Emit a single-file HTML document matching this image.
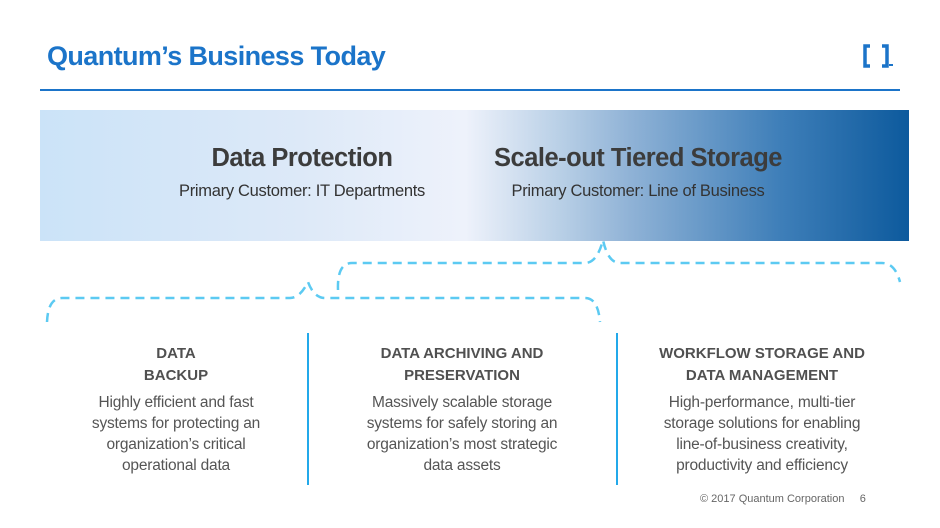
<!DOCTYPE html>
<html><head><meta charset="utf-8"><style>
body{margin:0;width:940px;height:528px;background:#fff;position:relative;overflow:hidden;font-family:"Liberation Sans",sans-serif}
.a{position:absolute}
.t{font-weight:bold;color:#1b74c9;font-size:27px;left:47px;top:41px;letter-spacing:-0.6px}
.band{left:40px;top:110px;width:869px;height:131px;background:linear-gradient(90deg,#cbe3f8 0%,#dde9f8 30%,#eef2fb 49%,#b8cfe6 60%,#8fb2d6 68%,#3f7fb9 85%,#0d5a9d 100%)}
.h{font-weight:bold;color:#3c3c3c;font-size:25.5px;text-align:center;letter-spacing:-0.5px}
.s{color:#333;font-size:16.5px;text-align:center;letter-spacing:-0.3px}
.ch{font-weight:bold;color:#505050;font-size:15px;text-align:center;line-height:22px;width:300px}
.cb{color:#555;font-size:15.5px;text-align:center;line-height:21px;width:300px;letter-spacing:-0.2px}
.v{width:2px;background:#23a9ea;top:333px;height:152px}
</style></head><body>
<div class="a t">Quantum’s Business Today</div>
<div class="a" style="left:40px;top:89px;width:860px;height:2px;background:#1b74c9"></div>
<svg class="a" style="left:860px;top:42px" width="40" height="30"><path d="M10 4H5V24H10M22 4H27V24H22" stroke="#1b74c9" stroke-width="3.5" fill="none"/><rect x="29" y="22" width="4" height="2" fill="#1b74c9"/></svg>
<div class="a band"></div>
<div class="a h" style="left:132px;top:144px;width:340px">Data Protection</div>
<div class="a s" style="left:132px;top:182px;width:340px">Primary Customer: IT Departments</div>
<div class="a h" style="left:458px;top:144px;width:360px">Scale-out Tiered Storage</div>
<div class="a s" style="left:458px;top:182px;width:360px">Primary Customer: Line of Business</div>
<svg class="a" style="left:0;top:0" width="940" height="528">
<g stroke="#5ccaf2" stroke-width="2.5" fill="none" stroke-dasharray="9 6">
<path d="M47 322 Q48 298 62 298 H290 Q300 298 308 282 Q314 298 325 298 H585 Q598 298 600 322"/>
<path d="M338 290 Q337 263 352 263 H585 Q597 263 603 240 Q608 263 620 263 H882 Q895 263 900 282"/>
</g></svg>
<div class="a v" style="left:307px"></div>
<div class="a v" style="left:616px"></div>
<div class="a ch" style="left:26px;top:343px">DATA<br>BACKUP</div>
<div class="a cb" style="left:26px;top:392px">Highly efficient and fast<br>systems for protecting an<br>organization’s critical<br>operational data</div>
<div class="a ch" style="left:312px;top:343px">DATA ARCHIVING AND<br>PRESERVATION</div>
<div class="a cb" style="left:312px;top:392px">Massively scalable storage<br>systems for safely storing an<br>organization’s most strategic<br>data assets</div>
<div class="a ch" style="left:612px;top:343px">WORKFLOW STORAGE AND<br>DATA MANAGEMENT</div>
<div class="a cb" style="left:612px;top:392px">High-performance, multi-tier<br>storage solutions for enabling<br>line-of-business creativity,<br>productivity and efficiency</div>
<div class="a" style="left:700px;top:493px;font-size:11px;color:#666">© 2017 Quantum Corporation &nbsp;&nbsp;&nbsp;&nbsp;6</div>
</body></html>
